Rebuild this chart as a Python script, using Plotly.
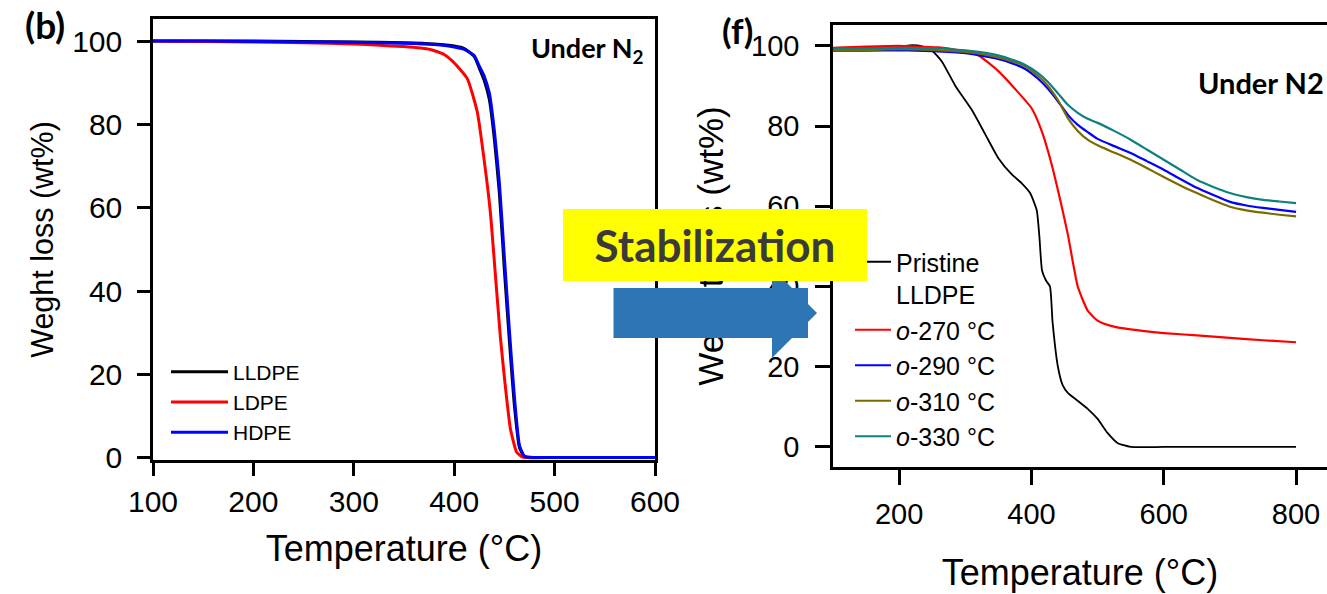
import plotly.graph_objects as go

W, H = 1327, 594

# ---------------- Panel (b): PE grades, under N2 ----------------
t_lldpe = [100, 150, 200, 250, 300, 350, 380, 400, 410, 420, 425, 430, 435, 440, 445, 450, 455, 460, 465, 470, 480, 500, 550, 600]
w_lldpe = [100, 100, 100, 99.9, 99.8, 99.6, 99.3, 98.8, 98.2, 96.3, 93.5, 90.5, 86, 76.5, 63.5, 45, 28, 12.5, 2.5, 0.3, 0.1, 0.1, 0.1, 0.1]

t_ldpe = [100, 150, 200, 250, 300, 326, 350, 376, 390, 399, 413, 423, 429, 436, 441, 446, 451, 456, 462, 468, 500, 550, 600]
w_ldpe = [100, 99.9, 99.8, 99.6, 99.3, 99, 98.7, 98, 96.8, 95, 91, 83, 73, 59, 44, 29, 17, 7, 1.5, 0.2, 0.1, 0.1, 0.1]

t_hdpe = [100, 150, 200, 250, 300, 350, 380, 400, 410, 420, 425, 430, 435, 440, 445, 450, 455, 460, 465, 470, 480, 500, 550, 600]
w_hdpe = [100, 100, 99.9, 99.8, 99.7, 99.5, 99.2, 98.6, 98.0, 96.5, 94, 91.5, 87.5, 78.5, 66, 48, 30.5, 14.5, 3.0, 0.4, 0.1, 0.1, 0.1, 0.1]

# ---------------- Panel (f): stabilized LLDPE, under N2 ----------------
t_pristine = [100, 150, 200, 220, 235, 250, 265, 285, 310, 330, 350, 370, 385, 398, 408, 412, 416, 422, 428, 432, 440, 447, 455, 470, 485, 500, 515, 530, 550, 600, 700, 800]
w_pristine = [99.5, 99.6, 99.8, 100.2, 99.9, 98.8, 96, 90, 84, 78, 72, 68, 65.8, 63.3, 59, 52.5, 44, 41.5, 40, 31, 20, 15.5, 13.5, 11.5, 9.5, 7, 3.5, 1, 0, 0, 0, 0]

t_o270 = [100, 150, 200, 230, 260, 290, 320, 350, 375, 400, 415, 430, 445, 455, 470, 485, 500, 520, 550, 600, 650, 700, 750, 800]
w_o270 = [99.5, 99.8, 100.0, 99.8, 99.6, 98.9, 97.6, 93.7, 89.3, 84.5, 79, 70.8, 60.5, 53, 40, 34, 31.5, 30.2, 29.3, 28.4, 27.8, 27.2, 26.6, 26.1]

t_stab = [100, 150, 200, 250, 300, 320, 345, 370, 390, 410, 425, 440, 455, 470, 485, 500, 525, 550, 575, 600, 625, 650, 675, 700, 725, 750, 775, 800]
w_o290 = [98.8, 98.8, 98.9, 98.7, 98.2, 97.7, 96.9, 95.7, 94.3, 91.8, 89.3, 86.2, 82.8, 80.3, 78.5, 76.8, 75.0, 73.3, 71.2, 69.1, 66.8, 64.6, 62.8, 61.1, 60.2, 59.6, 59.1, 58.6]
w_o310 = [99.0, 99.0, 99.2, 99.0, 98.5, 98.1, 97.3, 96.2, 94.9, 92.5, 90.0, 86.5, 82.0, 78.8, 76.6, 75.2, 73.4, 71.6, 69.5, 67.3, 65.2, 63.3, 61.5, 59.9, 59.0, 58.4, 57.9, 57.5]
w_o330 = [99.3, 99.4, 99.5, 99.4, 98.9, 98.5, 97.8, 96.6, 95.3, 93.2, 91.0, 88.2, 85.3, 83.3, 81.8, 80.8, 78.8, 76.6, 74.1, 71.6, 69.1, 66.6, 64.8, 63.3, 62.3, 61.6, 61.2, 60.8]

left_ticks_x = [100, 200, 300, 400, 500, 600]
right_ticks_x = [200, 400, 600, 800]
ticks_y = [0, 20, 40, 60, 80, 100]

FONT = "Liberation Sans, Arial, sans-serif"
BOLD = "Lato, Calibri, sans-serif"

fig = go.Figure()

left_series = [
    (t_lldpe, w_lldpe, "LLDPE", "#000000"),
    (t_ldpe, w_ldpe, "LDPE", "#FF0000"),
    (t_hdpe, w_hdpe, "HDPE", "#0000FF"),
]
for t, w, name, col in left_series:
    fig.add_trace(go.Scatter(x=t, y=w, name=name, mode="lines",
                             line=dict(color=col, width=3, shape="spline", smoothing=0.5),
                             xaxis="x", yaxis="y", legend="legend"))

right_series = [
    (t_pristine, w_pristine, "Pristine<br>LLDPE", "#000000", 1.8),
    (t_o270, w_o270, "<i>o</i>-270 °C", "#FF0000", 2.2),
    (t_stab, w_o290, "<i>o</i>-290 °C", "#0000FF", 2.2),
    (t_stab, w_o310, "<i>o</i>-310 °C", "#7A6A00", 2.2),
    (t_stab, w_o330, "<i>o</i>-330 °C", "#0E8080", 2.2),
]
for t, w, name, col, lw in right_series:
    fig.add_trace(go.Scatter(x=t, y=w, name=name, mode="lines",
                             line=dict(color=col, width=lw, shape="spline", smoothing=0.5),
                             xaxis="x2", yaxis="y2", legend="legend2"))

def px_x(p):
    return p / W

def px_y(p):
    return 1 - p / H

axis_common = dict(showgrid=False, zeroline=False, showline=True, linecolor="black",
                   linewidth=2.5, ticks="outside", tickcolor="black", tickwidth=2.5,
                   automargin=False)

fig.update_layout(
    width=W, height=H,
    margin=dict(l=0, r=0, t=0, b=0, autoexpand=False),
    paper_bgcolor="white", plot_bgcolor="white",
    xaxis=dict(domain=[px_x(153), px_x(655)], range=[100, 600], tickvals=left_ticks_x,
               mirror=True, ticklen=13, anchor="y", ticklabelstandoff=0,
               tickfont=dict(family=FONT, size=30, color="black"),
               title=dict(text="Temperature (°C)", font=dict(family=FONT, size=36, color="black"), standoff=20),
               **axis_common),
    yaxis=dict(domain=[px_y(460), px_y(19)], range=[-0.5, 105.3], tickvals=ticks_y,
               mirror=True, ticklen=13, anchor="x", ticklabelstandoff=9,
               tickfont=dict(family=FONT, size=30, color="black"),
               title=dict(text="Weght loss (wt%)", font=dict(family=FONT, size=30.5, color="black"), standoff=10),
               **axis_common),
    xaxis2=dict(domain=[px_x(833), 1.0], range=[100, 846.8], tickvals=right_ticks_x,
                mirror=True, ticklen=15, anchor="y2", ticklabelstandoff=4,
                tickfont=dict(family=FONT, size=29, color="black"),
                title=dict(text="Temperature (°C)", font=dict(family=FONT, size=36, color="black"), standoff=32),
                **axis_common),
    yaxis2=dict(domain=[px_y(467), px_y(25)], range=[-5, 105.2], tickvals=ticks_y,
                mirror=False, ticklen=15, anchor="x2", ticklabelstandoff=10,
                tickfont=dict(family=FONT, size=29, color="black"),
                title=dict(text="Weight loss (wt%)", font=dict(family=FONT, size=35, color="black"), standoff=17),
                **axis_common),
    legend=dict(x=px_x(166), y=px_y(402), xanchor="left", yanchor="middle",
                bgcolor="rgba(0,0,0,0)", borderwidth=0, itemwidth=57,
                font=dict(family=FONT, size=21, color="black")),
    legend2=dict(x=px_x(850), y=px_y(239), xanchor="left", yanchor="top",
                 bgcolor="rgba(0,0,0,0)", borderwidth=0, itemwidth=36, valign="top",
                 font=dict(family=FONT, size=25, color="black")),
    showlegend=True,
)

annotations = [
    dict(text="<b>(b)</b>", x=px_x(23), y=px_y(25), xanchor="left", yanchor="middle",
         font=dict(family=BOLD, size=37, color="black")),
    dict(text="<b>Under N<sub>2</sub></b>", x=px_x(645), y=px_y(50), xanchor="right", yanchor="middle",
         font=dict(family=BOLD, size=27, color="black")),
    dict(text="<b>(f)</b>", x=px_x(720), y=px_y(30), xanchor="left", yanchor="middle",
         font=dict(family=BOLD, size=35, color="black")),
    dict(text="<b>Under N2</b>", x=px_x(1326), y=px_y(83), xanchor="right", yanchor="middle",
         font=dict(family=BOLD, size=29, color="black")),
    # blue block arrow
    dict(text="", x=px_x(817), y=px_y(313), ax=-205, ay=0, showarrow=True,
         arrowhead=1, arrowsize=0.3, arrowwidth=50, arrowcolor="#2E75B6", standoff=0),
    # yellow label
    dict(text="<b>Stabilization</b>", x=px_x(715), y=px_y(245), xanchor="center", yanchor="middle",
         width=304, height=72, bgcolor="#FFFF00", borderpad=0, borderwidth=0,
         font=dict(family=BOLD, size=44, color="#3A3A3A")),
]
for a in annotations:
    a.setdefault("xref", "paper")
    a.setdefault("yref", "paper")
    a.setdefault("showarrow", False)
fig.update_layout(annotations=annotations)

fig.write_html("out.html")
